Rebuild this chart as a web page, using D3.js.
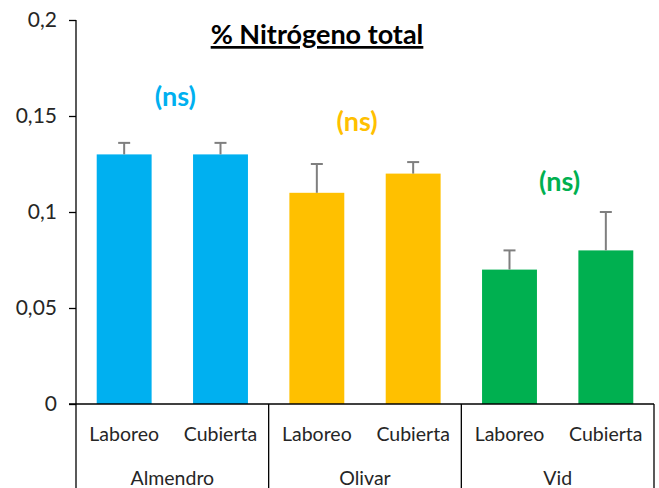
<!DOCTYPE html>
<html><head><meta charset="utf-8">
<script src="https://cdn.jsdelivr.net/npm/d3@7"></script>
<style>body{margin:0;background:#fff}</style>
</head><body>
<svg id="c" width="659" height="488"></svg>
<script>
const groups = ["Almendro","Olivar","Vid"];
const treatments = ["Laboreo","Cubierta"];
const values = [0.13,0.13,0.11,0.12,0.07,0.08];
const errors = [0.006,0.006,0.015,0.006,0.01,0.02];
const colors = ["#00b0f0","#ffc000","#00b050"];
const sigLabels = ["(ns)","(ns)","(ns)"];
const sigY = [0.155,0.142,0.111];
const yTicks = [0,0.05,0.1,0.15,0.2];
const title = "% Nitrógeno total";

const svg = d3.select("#c");
const font = "Lato, 'Open Sans', sans-serif";
const x0 = 76, x1 = 654, yTop = 20, yBot = 404;
const sigDx = [3,-8,2];
const cats = [];
groups.forEach((g,gi)=>treatments.forEach(t=>cats.push({g,gi,t,key:g+"|"+t})));
const x = d3.scaleBand().domain(cats.map(d=>d.key)).range([x0,x1]).paddingInner(0.43).paddingOuter(0.215);
const xg = d3.scaleBand().domain(groups).range([x0,x1]);
const y = d3.scaleLinear().domain([0,0.2]).range([yBot,yTop]);

// y axis
const ya = svg.append("g").attr("transform",`translate(${x0},0)`)
  .call(d3.axisLeft(y).tickValues(yTicks).tickSize(7).tickPadding(12)
    .tickFormat(d=>String(d).replace(".",",")));
ya.select(".domain").attr("stroke","#000").attr("stroke-width",1.3).attr("d",`M0,${yTop}V488`);
ya.selectAll(".tick line").attr("stroke","#000").attr("stroke-width",1.3);
ya.selectAll(".tick text").attr("font-family",font).attr("font-size",21).attr("fill","#262626");

// bars
svg.append("g").selectAll("rect").data(cats).join("rect")
  .attr("x",d=>x(d.key)).attr("width",x.bandwidth())
  .attr("y",(d,i)=>y(values[i])).attr("height",(d,i)=>y(0)-y(values[i]))
  .attr("fill",d=>colors[d.gi]);

// error bars
const eb = svg.append("g").attr("stroke","#7f7f7f").attr("stroke-width",2);
cats.forEach((d,i)=>{
  const cx = x(d.key)+x.bandwidth()/2;
  eb.append("line").attr("x1",cx).attr("x2",cx).attr("y1",y(values[i])).attr("y2",y(values[i]+errors[i]));
  eb.append("line").attr("x1",cx-6).attr("x2",cx+6).attr("y1",y(values[i]+errors[i])).attr("y2",y(values[i]+errors[i]));
});

// x axis line
svg.append("line").attr("x1",x0-7).attr("x2",x1).attr("y1",yBot).attr("y2",yBot).attr("stroke","#000").attr("stroke-width",1.3);
// group separators
groups.forEach(g=>{
  const xe = xg(g)+xg.bandwidth();
  svg.append("line").attr("x1",xe).attr("x2",xe).attr("y1",yBot).attr("y2",488).attr("stroke","#000").attr("stroke-width",1.3);
});
// category labels
svg.append("g").selectAll("text").data(cats).join("text")
  .attr("x",d=>x(d.key)+x.bandwidth()/2).attr("y",441)
  .attr("text-anchor","middle").attr("font-family",font).attr("font-size",19.5).attr("fill","#262626")
  .text(d=>d.t);
svg.append("g").selectAll("text").data(groups).join("text")
  .attr("x",d=>xg(d)+xg.bandwidth()/2).attr("y",485)
  .attr("text-anchor","middle").attr("font-family",font).attr("font-size",19.5).attr("fill","#262626")
  .text(d=>d);

// significance labels
svg.append("g").selectAll("text").data(groups).join("text")
  .attr("x",(d,i)=>xg(d)+xg.bandwidth()/2+sigDx[i]).attr("y",(d,i)=>y(sigY[i]))
  .attr("text-anchor","middle").attr("font-family",font).attr("font-size",27).attr("font-weight","bold")
  .attr("fill",(d,i)=>colors[i]).text((d,i)=>sigLabels[i]);

// title
svg.append("text").attr("x",317).attr("y",44).attr("text-anchor","middle")
  .attr("font-family",font).attr("font-size",27).attr("font-weight","bold").attr("fill","#000")
  .attr("text-decoration","underline").text(title);
</script>
</body></html>
